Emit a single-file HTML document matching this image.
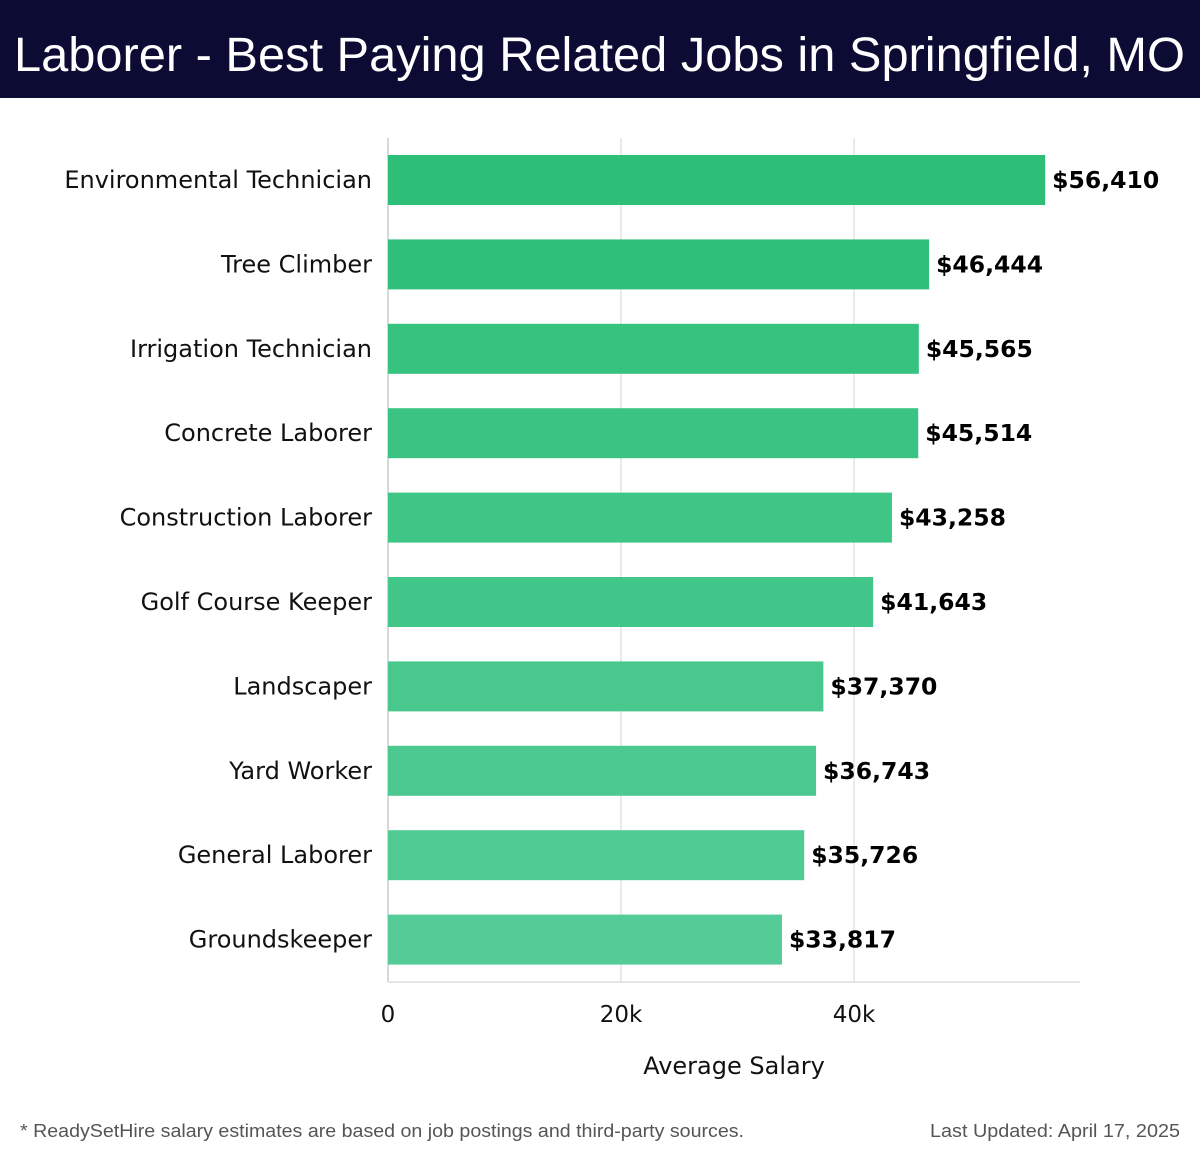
<!DOCTYPE html>
<html><head><meta charset="utf-8"><style>
html,body{margin:0;padding:0;background:#fff;}
svg{display:block;font-family:"Liberation Sans","DejaVu Sans",sans-serif;}
.dj{font-family:"DejaVu Sans",sans-serif;}
</style></head><body>
<svg id="c" width="1200" height="1158" viewBox="0 0 1200 1158">
<rect x="0" y="0" width="1200" height="98" fill="#0c0b33"/>
<text x="14" y="71" font-size="48" fill="#fff" textLength="1171" lengthAdjust="spacingAndGlyphs">Laborer - Best Paying Related Jobs in Springfield, MO</text>
<g id="grid"></g><g id="bars"></g><g id="labels" class="dj"></g>
<text class="dj" x="734" y="1074" font-size="24" text-anchor="middle" fill="#111">Average Salary</text>
<text x="20" y="1137" font-size="18" fill="#555" textLength="724" lengthAdjust="spacingAndGlyphs">* ReadySetHire salary estimates are based on job postings and third-party sources.</text>
<text x="930" y="1137" font-size="18" fill="#555" textLength="250" lengthAdjust="spacingAndGlyphs">Last Updated: April 17, 2025</text>
</svg>
<script>
const categories=["Environmental Technician","Tree Climber","Irrigation Technician","Concrete Laborer","Construction Laborer","Golf Course Keeper","Landscaper","Yard Worker","General Laborer","Groundskeeper"];
const salaries=[56410,46444,45565,45514,43258,41643,37370,36743,35726,33817];
const valueLabels=["$56,410","$46,444","$45,565","$45,514","$43,258","$41,643","$37,370","$36,743","$35,726","$33,817"];
const tickValues=[0,20000,40000];
const tickLabels=["0","20k","40k"];
const NS="http://www.w3.org/2000/svg";
const x0=388,pxPer=233/20000,plotTop=138,step=84.4,bh=50;
const xs=v=>x0+v*pxPer;
const ys=i=>plotTop+17+i*step;
function mk(t,a,p){const e=document.createElementNS(NS,t);for(const k in a)e.setAttribute(k,a[k]);p.appendChild(e);return e;}
const g=document.getElementById('grid'),b=document.getElementById('bars'),l=document.getElementById('labels');
tickValues.forEach((v,i)=>{
 const ln=mk('line',{x1:xs(v),x2:xs(v),y1:plotTop,y2:982,stroke:i==0?'#ccc':'#e3e3e3','stroke-width':1.5},g);
 
 
 const t=mk('text',{x:xs(v),y:1022,'font-size':23,'text-anchor':'middle',fill:'#111'},l);t.textContent=tickLabels[i];
 
 
});
const ax=mk('line',{x1:x0,x2:1080,y1:982,y2:982,stroke:'#ddd','stroke-width':1.5},g);


categories.forEach((c,i)=>{
 const f=i/9;
 const col=`rgb(${Math.round(45+40*f)},${Math.round(191+13*f)},${Math.round(120+31*f)})`;
 const r=mk('rect',{x:x0,y:ys(i),width:xs(salaries[i])-x0,height:bh,fill:col},b);
 
 
 const t=mk('text',{x:372,y:ys(i)+bh/2+8,'font-size':24,'text-anchor':'end',fill:'#111'},l);t.textContent=c;
 
 
 const v=mk('text',{x:xs(salaries[i])+7,y:ys(i)+bh/2+8,'font-size':23.5,'font-weight':'bold',fill:'#000'},l);v.textContent=valueLabels[i];
 
 
});
</script>
</body></html>
